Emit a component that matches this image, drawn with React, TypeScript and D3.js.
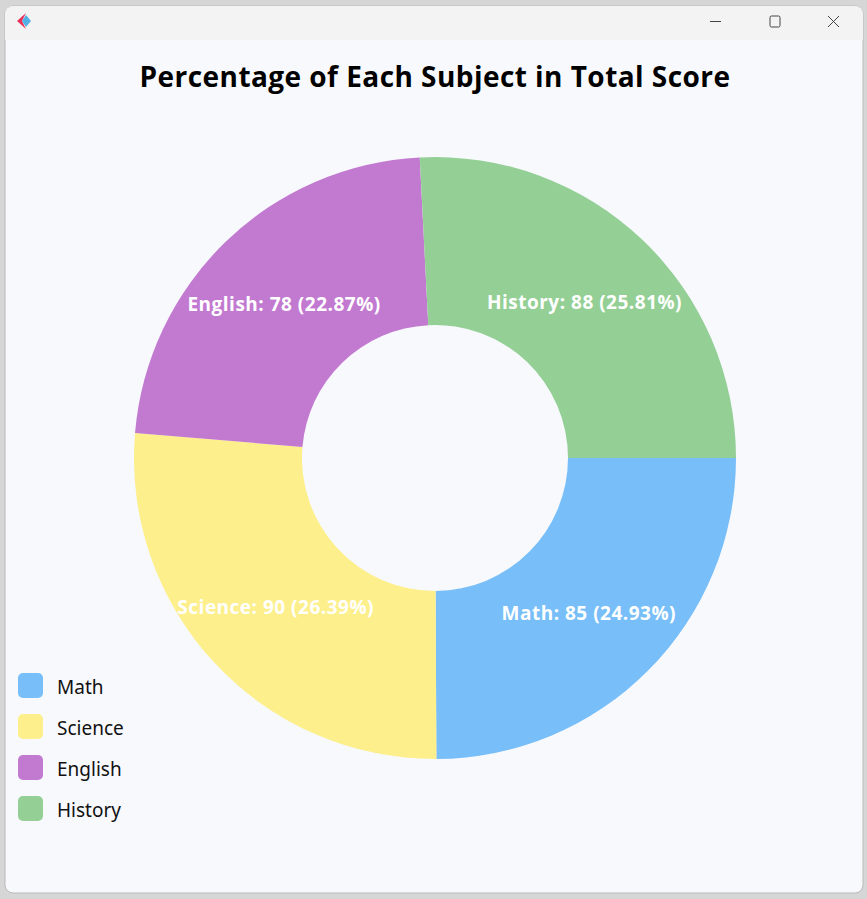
import React from 'react';
import * as d3 from 'd3';

const subjects = ['Math', 'Science', 'English', 'History'];
const scores = [85, 90, 78, 88];
const colors = ['#78bef8', '#fcef8c', '#c27ad1', '#94cf96'];
const title = 'Percentage of Each Subject in Total Score';

const W = 867;
const H = 899;
const FONT = '"Noto Sans", "Open Sans", sans-serif';
const BOLD_FONT = '"Open Sans", "Noto Sans", sans-serif';

const App = () => {
  const cx = 435;
  const cy = 458;
  const outer = 301;
  const inner = 133;

  const total = d3.sum(scores);
  const data = subjects.map((s, i) => ({ name: s, value: scores[i], color: colors[i] }));

  const pie = d3.pie<any>()
    .value(d => d.value)
    .sort(null)
    .startAngle(Math.PI / 2)
    .endAngle(Math.PI / 2 + 2 * Math.PI);

  const arc = d3.arc<any>().innerRadius(inner).outerRadius(outer);
  const arcs = pie(data);

  return (
    <svg width={W} height={H} style={{ position: 'absolute', left: 0, top: 0, display: 'block' }}>
      {/* desktop behind the window */}
      <rect x={0} y={0} width={W} height={H} fill="#d6d6d6" />
      {/* window */}
      <rect x={5} y={6} width={858} height={887} rx={8} fill="#f8f9fd" stroke="#b9b9b9" strokeWidth={1} />
      <path d="M5,40 V14 a8,8 0 0 1 8,-8 H855 a8,8 0 0 1 8,8 V40 Z" fill="#f3f3f3" />
      {/* app icon */}
      <path d="M26,13 L17,21 L26,29 L22,21 Z" fill="#e8305a" />
      <path d="M22,21 L26,15 L31,21 L26,27 Z" fill="#40a9e6" opacity={0.9} />
      {/* window controls */}
      <line x1={710} y1={21.5} x2={721} y2={21.5} stroke="#444" strokeWidth={1} />
      <rect x={770} y={16} width={10} height={11} rx={1.5} fill="none" stroke="#444" strokeWidth={1} />
      <path d="M828,16 L839,27 M839,16 L828,27" stroke="#444" strokeWidth={1} />

      <text x={435} y={87} textAnchor="middle" fontFamily={BOLD_FONT} fontWeight="bold" fontSize={28}
        letterSpacing={0.45} fill="#000">
        {title}
      </text>

      <g transform={`translate(${cx},${cy})`}>
        {arcs.map((a, i) => (
          <path key={i} d={arc(a) || ''} fill={a.data.color} />
        ))}
        {arcs.map((a, i) => {
          const [x, y] = arc.centroid(a);
          return (
            <text key={i} x={x} y={y + 2} dy="0.35em" textAnchor="middle" fontFamily={BOLD_FONT}
              fontWeight="bold" fontSize={19} letterSpacing={0.5} fill="#fff">
              {`${a.data.name}: ${a.data.value} (${((a.data.value / total) * 100).toFixed(2)}%)`}
            </text>
          );
        })}
      </g>

      <g transform="translate(18,673)">
        {data.map((d, i) => (
          <g key={i} transform={`translate(0,${i * 41})`}>
            <rect width={25} height={25} rx={5} fill={d.color} />
            <text x={39} y={14} dy="0.35em" fontFamily={FONT} fontSize={19} fill="#111">{d.name}</text>
          </g>
        ))}
      </g>
    </svg>
  );
};

export default App;
